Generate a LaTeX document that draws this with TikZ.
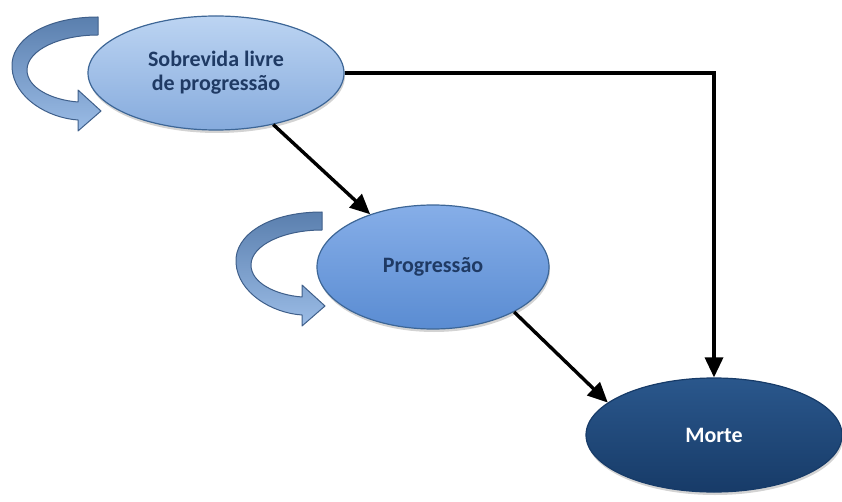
\documentclass[tikz,border=0pt]{standalone}
\usepackage{fontspec}
\setmainfont{Carlito}
\usetikzlibrary{shapes.geometric,arrows.meta,shadows}
\definecolor{txtnavy}{HTML}{1F3A64}
\definecolor{slptop}{HTML}{BCD4F2}
\definecolor{slpbot}{HTML}{86ABDD}
\definecolor{progtop}{HTML}{86AEE8}
\definecolor{progbot}{HTML}{5A8CD2}
\definecolor{morttop}{HTML}{2A578C}
\definecolor{mortbot}{HTML}{173B68}
\definecolor{ellborder}{HTML}{3D6696}
\definecolor{ribtop}{HTML}{5A7FAE}
\definecolor{ribbot}{HTML}{9BBCE6}
\definecolor{ribedge}{HTML}{3F5F8A}
\tikzset{
  stateell/.style={ellipse, inner sep=0pt, minimum width=256pt, minimum height=114pt,
    draw=ellborder, line width=1.2pt, font=\bfseries\fontsize{22}{24}\selectfont, align=center,
    drop shadow={opacity=0.35, shadow xshift=1pt, shadow yshift=-3pt}},
  link/.style={line width=3.4pt, -{Triangle[length=20pt,width=18pt]}},
  ribbon/.style={top color=ribtop, bottom color=ribbot, draw=ribedge, line width=1pt, line join=round}
}
\begin{document}
\begin{tikzpicture}[x=1pt,y=-1pt]
\useasboundingbox (0,0) rectangle (842,502);
% self-loop ribbons
\foreach \dx/\dy in {0/0, 224/195}{
  \begin{scope}[shift={(\dx,\dy)}]
  \path[ribbon] (98,17) .. controls (45,17) and (10,40) .. (12,68)
     .. controls (14,98) and (48,118) .. (78,120) -- (78,131) -- (101,111) -- (78,90) -- (78,102)
     .. controls (52,100) and (27,88) .. (27,70)
     .. controls (27,50) and (60,35) .. (98,35) -- cycle;
  \end{scope}
}
\node[stateell, top color=slptop, bottom color=slpbot, text=txtnavy] (slp) at (216,73) {Sobrevida livre\\de progressão};
\node[stateell, minimum width=232pt, minimum height=124pt, top color=progtop, bottom color=progbot, text=txtnavy] (prog) at (433,267) {Progressão};
\node[stateell, draw=mortbot, top color=morttop, bottom color=mortbot, text=white] (morte) at (714,435) {Morte};
\draw[link] (slp.-42) -- (prog.140);
\draw[link] (prog.-29) -- (morte.163);
\draw[link, line join=miter] (slp.east) -| (morte.north);
\end{tikzpicture}
\end{document}
